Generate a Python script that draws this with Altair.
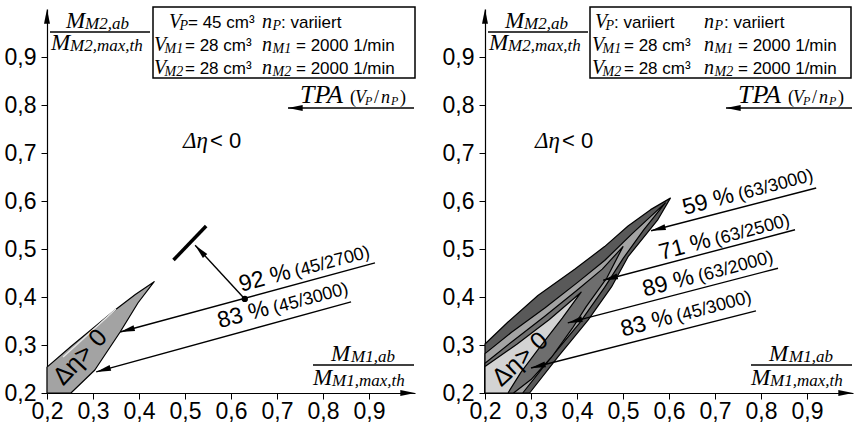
import math
import altair as alt
import pandas as pd

# ---------------------------------------------------------------- data
TICKS = [0.2, 0.3, 0.4, 0.5, 0.6, 0.7, 0.8, 0.9]

# left panel: region with Δη > 0  (V_P = 45 cm³)
L_AREA_X = [0.200, 0.200, 0.252, 0.300, 0.348, 0.392, 0.433, 0.398, 0.359, 0.304, 0.252]
L_AREA_Y = [0.200, 0.254, 0.297, 0.335, 0.373, 0.405, 0.432, 0.388, 0.327, 0.248, 0.200]
L_INNER_X = [0.235, 0.350]
L_INNER_Y = [0.275, 0.375]
L_SEG_X = [0.475, 0.546]          # operating line 92 % (45/2700)
L_SEG_Y = [0.477, 0.548]
L_DOT = (0.630, 0.396)
# leader lines: start x, start y, end x, end y
L_LEADERS = [(0.913, 0.471, 0.359, 0.327),   # 92 % (45/2700)
             (0.861, 0.390, 0.307, 0.244),   # 83 % (45/3000)
             (0.630, 0.396, 0.522, 0.508)]   # point -> operating line
L_LABELS = [("92 %", "(45/2700)"), ("83 %", "(45/3000)")]

# right panel: nested regions
R59_X = [0.200, 0.200, 0.250, 0.315, 0.395, 0.460, 0.511, 0.560, 0.603, 0.575, 0.511, 0.475, 0.424, 0.359, 0.297]
R59_Y = [0.200, 0.302, 0.348, 0.403, 0.458, 0.505, 0.548, 0.582, 0.606, 0.560, 0.484, 0.421, 0.352, 0.276, 0.200]
R71_X = [0.200, 0.200, 0.257, 0.330, 0.402, 0.460, 0.520, 0.592, 0.545, 0.500, 0.460, 0.405, 0.340, 0.282]
R71_Y = [0.200, 0.282, 0.326, 0.377, 0.431, 0.476, 0.532, 0.596, 0.540, 0.480, 0.420, 0.345, 0.270, 0.200]
R89_X = [0.200, 0.200, 0.260, 0.330, 0.400, 0.455, 0.500, 0.465, 0.420, 0.390, 0.345, 0.300, 0.262]
R89_Y = [0.200, 0.262, 0.308, 0.360, 0.414, 0.458, 0.505, 0.440, 0.380, 0.335, 0.275, 0.228, 0.200]
R83_X = [0.200, 0.200, 0.270, 0.340, 0.409, 0.368, 0.318, 0.278, 0.250]
R83_Y = [0.200, 0.255, 0.302, 0.353, 0.410, 0.356, 0.294, 0.243, 0.200]
R_LEADERS = [(0.920, 0.627, 0.561, 0.538),   # 59 % (63/3000)
             (0.874, 0.540, 0.457, 0.435),   # 71 % (63/2500)
             (0.837, 0.460, 0.380, 0.346),   # 89 % (63/2000)
             (0.789, 0.371, 0.300, 0.252)]   # 83 % (45/3000)
R_LABELS = [("59 %", "(63/3000)"), ("71 %", "(63/2500)"),
            ("89 %", "(63/2000)"), ("83 %", "(45/3000)")]

# ---------------------------------------------------------------- geometry
W, H = 368, 384
XD, YD = [0.2, 1.0], [0.2, 1.0]
KX = W / (XD[1] - XD[0])
KY = H / (YD[1] - YD[0])
TOP = 9  # pixel row of y = 1.0


def fx(rel):
    return XD[0] + rel / KX


def fy(yabs):
    return YD[1] - (yabs - TOP) / KY


def ang(x1, y1, x2, y2):
    return math.degrees(math.atan2(KX * (x2 - x1), KY * (y2 - y1))) % 360


SX = alt.Scale(domain=XD, nice=False, zero=False)
SY = alt.Scale(domain=YD, nice=False, zero=False)
LABEL_EXPR = "replace(format(datum.value, '.1f'), '.', ',')"
AX = alt.Axis(values=TICKS, labelExpr=LABEL_EXPR, title=None, grid=False,
              domainColor="black", domainWidth=1.2, tickColor="black", tickSize=6,
              labelFont="Liberation Sans", labelFontSize=23, labelColor="black",
              labelPadding=1, labelFlush=False)
AY = alt.Axis(values=TICKS, labelExpr=LABEL_EXPR, title=None, grid=False,
              domainColor="black", domainWidth=1.2, tickColor="black", tickSize=6,
              labelFont="Liberation Sans", labelFontSize=23, labelColor="black",
              labelPadding=5, labelFlush=False)


def ex(field="x"):
    return alt.X(f"{field}:Q", scale=SX, axis=AX)


def ey(field="y"):
    return alt.Y(f"{field}:Q", scale=SY, axis=AY)


def polygon(xs, ys, fill):
    df = pd.DataFrame({"x": xs + [xs[0]], "y": ys + [ys[0]]})
    df["i"] = range(len(df))
    return alt.Chart(df).mark_line(fill=fill, stroke="black", strokeWidth=1.2,
                                   strokeJoin="round").encode(x=ex(), y=ey(), order="i:Q")


def lines(segs, width=1.2, color="black"):
    rows = []
    for k, (x1, y1, x2, y2) in enumerate(segs):
        rows += [dict(id=k, i=0, x=x1, y=y1), dict(id=k, i=1, x=x2, y=y2)]
    return alt.Chart(pd.DataFrame(rows)).mark_line(color=color, strokeWidth=width).encode(
        x=ex(), y=ey(), detail="id:N", order="i:Q")


ARROW = "M0,0L0.85,4.2L-0.85,4.2Z"


def heads(pts, size=49):
    df = pd.DataFrame(pts, columns=["x", "y", "a"])
    return alt.Chart(df).mark_point(shape=ARROW, filled=True, size=size, color="black",
                                    opacity=1, strokeWidth=0).encode(
        x=ex(), y=ey(), angle=alt.Angle("a:Q", scale=None))


SERIF, SANS = "Liberation Serif", "Liberation Sans"
STYLES = {
    "box": dict(font=SANS, fontSize=17),
    "V": dict(font=SERIF, fontStyle="italic", fontSize=20),
    "sub": dict(font=SERIF, fontStyle="italic", fontSize=14),
    "M": dict(font=SERIF, fontStyle="italic", fontSize=23),
    "Msub": dict(font=SERIF, fontStyle="italic", fontSize=17),
    "TPA": dict(font=SERIF, fontStyle="italic", fontSize=26),
    "par": dict(font=SERIF, fontSize=18),
    "v18": dict(font=SERIF, fontStyle="italic", fontSize=18),
    "s12": dict(font=SERIF, fontStyle="italic", fontSize=12),
    "greek": dict(font=SERIF, fontStyle="italic", fontSize=23),
    "big": dict(font=SANS, fontSize=23),
    "lt": dict(font=SANS, fontSize=22),
    "small": dict(font=SANS, fontSize=18),
    "rot": dict(font=SANS, fontSize=25, align="center", baseline="middle"),
}


def texts(frags):
    df = pd.DataFrame(frags)
    out = []
    for st, g in df.groupby("style", sort=False):
        kw = dict(align="left", baseline="alphabetic")
        kw.update(STYLES[st])
        out.append(alt.Chart(g).mark_text(color="black", **kw).encode(
            x=ex(), y=ey(), text="text:N", angle=alt.Angle("a:Q", scale=None)))
    return out


def F(rel, yabs, text, style, a=0):
    return dict(x=fx(rel), y=fy(yabs), text=text, style=style, a=a)


def box_frags(first_line, v_rel, n_rel, eq_rel, n_eq_rel):
    fr = []
    for li, ysub in enumerate(["P", "M1", "M2"]):
        yb = 28 + 23 * li
        fr.append(F(v_rel[li], yb, "V", "V"))
        fr.append(F(v_rel[li] + 10.5, yb + 2, ysub, "sub"))
        fr.append(F(eq_rel[li], yb, first_line if li == 0 else "= 28 cm³", "box"))
        fr.append(F(n_rel, yb, "n", "V"))
        fr.append(F(n_rel + 10.5, yb + 2, ysub, "sub"))
        fr.append(F(n_eq_rel[li], yb, ": variiert" if li == 0 else "= 2000 1/min", "box"))
    return fr


def common_frags(num_rel):
    return [
        # y-axis title
        F(num_rel, 28, "M", "M"), F(num_rel + 19, 29, "M2,ab", "Msub"),
        F(4, 50, "M", "M"), F(23, 51, "M2,max,th", "Msub"),
        # x-axis title
        F(284, 361, "M", "M"), F(304, 362, "M1,ab", "Msub"),
        F(266, 385, "M", "M"), F(285, 386, "M1,max,th", "Msub"),
        # TPA
        F(253, 103, "TPA", "TPA"), F(303, 103, "(", "par"), F(308, 103, "V", "v18"),
        F(318, 105, "P", "s12"), F(327, 103, "/", "par"), F(334, 103, "n", "v18"),
        F(344, 105, "P", "s12"), F(353, 103, ")", "par"),
    ]


def leader_frags(anchors, labels, angle=15, gap=57):
    fr = []
    r = math.radians(angle)
    for (rx, yy), (big, small) in zip(anchors, labels):
        fr.append(F(rx, yy, big, "big", 360 - angle))
        fr.append(F(rx + gap * math.cos(r), yy - gap * math.sin(r), small, "small", 360 - angle))
    return fr


def frame_layers(box_rel):
    box = pd.DataFrame({"x": [fx(box_rel[0])], "x2": [fx(box_rel[1])],
                        "y": [fy(7)], "y2": [fy(78)]})
    rect = alt.Chart(box).mark_rect(fill="white", stroke="black", strokeWidth=1.5).encode(
        x=ex(), x2="x2:Q", y=ey(), y2="y2:Q")
    rules = lines([(fx(3), fy(32), fx(103), fy(32)),
                   (fx(266), fy(365), fx(367), fy(365)),
                   (fx(241), fy(108), fx(367), fy(108))], width=1.3)
    tpa_head = heads([(fx(241), fy(108), 270)])
    axis_heads = heads([(XD[0], YD[1], 0), (XD[1], YD[0], 90)])
    return [axis_heads, rect, rules, tpa_head]


# ---------------------------------------------------------------- left panel
left_layers = frame_layers((106, 368))
left_layers += [polygon(L_AREA_X, L_AREA_Y, "#a3a3a3"),
                lines([(L_INNER_X[0], L_INNER_Y[0], L_INNER_X[1], L_INNER_Y[1])],
                      width=1.5, color="#e6e6e6"),
                lines([(L_SEG_X[0], L_SEG_Y[0], L_SEG_X[1], L_SEG_Y[1])], width=3.5),
                lines(L_LEADERS, width=1.4),
                heads([(s[2], s[3], ang(*s)) for s in L_LEADERS]),
                alt.Chart(pd.DataFrame({"x": [L_DOT[0]], "y": [L_DOT[1]]})).mark_circle(
                    size=40, color="black", opacity=1).encode(x=ex(), y=ey())]
lf = box_frags("= 45 cm³", [122, 107, 107], 215, [141, 138, 138], [234, 249, 249])
lf += common_frags(19)
lf += [F(136, 148, "Δη", "greek"), F(163, 148, "< 0", "lt"), F(33, 357, "Δη> 0", "rot", 313)]
lf += leader_frags([(194.3, 291.7), (172.7, 328.3)], L_LABELS)
left_layers += texts(lf)
left = alt.layer(*left_layers).properties(width=W, height=H)

# ---------------------------------------------------------------- right panel
right_layers = frame_layers((105, 366))
right_layers += [polygon(R59_X, R59_Y, "#595959"),
                 polygon(R71_X, R71_Y, "#a3a3a3"),
                 polygon(R89_X, R89_Y, "#6e6e6e"),
                 polygon(R83_X, R83_Y, "#d3d3d3"),
                 lines(R_LEADERS, width=1.4),
                 heads([(s[2], s[3], ang(*s)) for s in R_LEADERS])]
rf = box_frags(": variiert", [110, 107, 107], 219, [129, 139, 139], [239, 253, 253])
rf += common_frags(20)
rf += [F(50, 148, "Δη", "greek"), F(77, 148, "< 0", "lt"), F(35, 359, "Δη> 0", "rot", 317)]
rf += leader_frags([(199.7, 215), (176.3, 260), (159.7, 296.7), (138, 336.7)], R_LABELS)
right_layers += texts(rf)
right = alt.layer(*right_layers).properties(width=W, height=H)

chart = alt.hconcat(left, right, spacing=70, bounds="flush").properties(
    padding={"left": 4, "top": 6, "right": 4, "bottom": 2},
    background="white",
).configure_view(stroke=None)

chart.save("out.html", embed_options={"renderer": "svg", "actions": False})
